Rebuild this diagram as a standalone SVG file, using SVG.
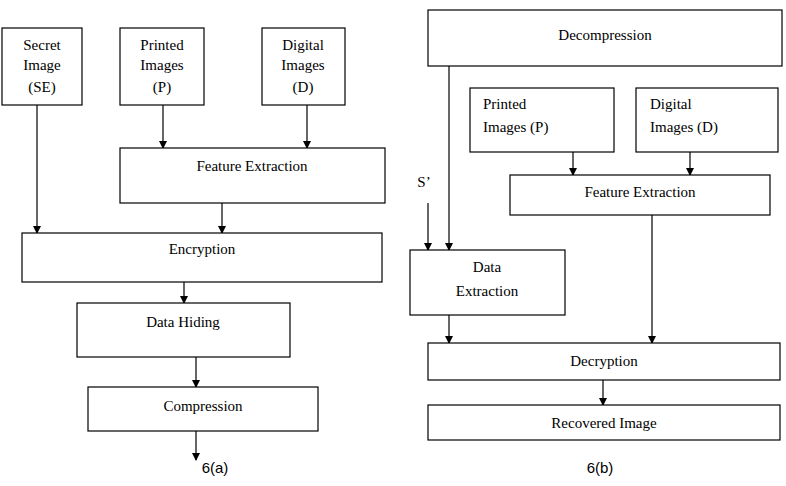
<svg xmlns="http://www.w3.org/2000/svg" width="786" height="486" viewBox="0 0 786 486">
<defs>
<marker id="ah" markerWidth="8" markerHeight="8" refX="7" refY="4" orient="auto" markerUnits="userSpaceOnUse"><path d="M0,0 L8,4 L0,8 Z" fill="#000"/></marker>
<style>
rect{fill:#fff;stroke:#000;stroke-width:1.2}
text{font-family:"Liberation Serif",serif;font-size:15px;text-anchor:middle;fill:#000}
.l{text-anchor:start}
.cap{font-family:"Liberation Sans",sans-serif;font-size:15px}
#connectors line{stroke:#000;stroke-width:1.2;marker-end:url(#ah)}
</style>
</defs>
<rect width="786" height="486" style="fill:#fff;stroke:none"/>
<g id="connectors">
<line x1="37" y1="105" x2="37" y2="233"/>
<line x1="163" y1="105" x2="163" y2="148"/>
<line x1="307" y1="105" x2="307" y2="148"/>
<line x1="222" y1="203" x2="222" y2="233"/>
<line x1="184" y1="282" x2="184" y2="303"/>
<line x1="196" y1="357" x2="196" y2="387"/>
<line x1="196" y1="431" x2="196" y2="460"/>
<line x1="428" y1="203" x2="428" y2="250"/>
<line x1="449" y1="66" x2="449" y2="250"/>
<line x1="573" y1="152" x2="573" y2="175"/>
<line x1="690" y1="152" x2="690" y2="175"/>
<line x1="652" y1="215" x2="652" y2="343"/>
<line x1="449" y1="315" x2="449" y2="343"/>
<line x1="603" y1="380" x2="603" y2="405"/>
</g>
<g id="secret"><rect x="2" y="28" width="80" height="77"/><text x="42" y="50">Secret</text><text x="42" y="70">Image</text><text x="42" y="92">(SE)</text></g>
<g id="printedA"><rect x="120" y="28" width="84" height="77"/><text x="162" y="50">Printed</text><text x="162" y="70">Images</text><text x="162" y="92">(P)</text></g>
<g id="digitalA"><rect x="262" y="28" width="83" height="77"/><text x="303" y="50">Digital</text><text x="303" y="70">Images</text><text x="303" y="92">(D)</text></g>
<g id="featA"><rect x="120" y="148" width="265" height="55"/><text x="252" y="171">Feature Extraction</text></g>
<g id="enc"><rect x="22" y="233" width="360" height="49"/><text x="202" y="254">Encryption</text></g>
<g id="hide"><rect x="77" y="303" width="213" height="54"/><text x="183" y="327">Data Hiding</text></g>
<g id="comp"><rect x="88" y="387" width="230" height="44"/><text x="203" y="411">Compression</text></g>
<text class="cap" x="215" y="473">6(a)</text>
<g id="decomp"><rect x="428" y="10" width="354" height="56"/><text x="605" y="40">Decompression</text></g>
<g id="printedB"><rect x="470" y="88" width="144" height="64"/><text class="l" x="483" y="109">Printed</text><text class="l" x="483" y="132">Images (P)</text></g>
<g id="digitalB"><rect x="636" y="88" width="142" height="64"/><text class="l" x="650" y="109">Digital</text><text class="l" x="650" y="132">Images (D)</text></g>
<g id="featB"><rect x="510" y="175" width="260" height="40"/><text x="640" y="197">Feature Extraction</text></g>
<text x="424" y="187">S’</text>
<g id="dext"><rect x="410" y="250" width="155" height="65"/><text x="487" y="272">Data</text><text x="487" y="296">Extraction</text></g>
<g id="decr"><rect x="428" y="343" width="352" height="37"/><text x="604" y="366">Decryption</text></g>
<g id="rec"><rect x="428" y="405" width="352" height="35"/><text x="604" y="428">Recovered Image</text></g>
<text class="cap" x="600" y="473">6(b)</text>
</svg>
